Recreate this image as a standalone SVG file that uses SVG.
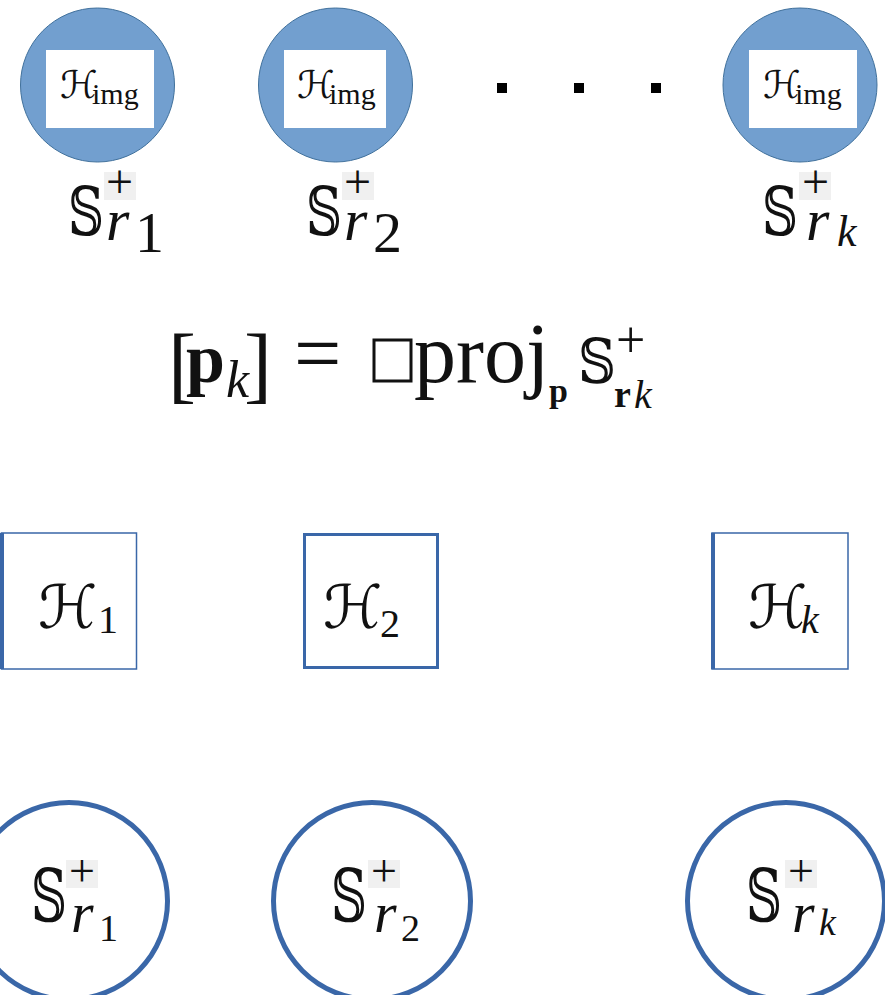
<svg xmlns="http://www.w3.org/2000/svg" width="885" height="995" viewBox="0 0 885 995">
<style>
.top{fill:#729FCF;stroke:#41719C;stroke-width:1}
.inner{fill:#ffffff}
.bot{fill:none;stroke:#3A67A8;stroke-width:5}
.box{fill:#ffffff;stroke:#3A67A8}
.lbl{font-family:"Liberation Serif",serif;fill:#111}
.ds{font-family:"DejaVu Serif","DejaVu Sans",serif}
.cal{font-family:"DejaVu Serif","DejaVu Sans",serif;font-style:italic}
.it{font-style:italic}
.bf{font-weight:bold}
.gb{fill:#f0f0f0}
</style>
<rect width="885" height="995" fill="#ffffff"/>

<g id="top1">
<circle class="top" cx="97.5" cy="85" r="77"/>
<rect class="inner" x="46" y="50" width="108" height="78"/>
<text class="lbl"><tspan class="cal" x="60" y="98" font-size="38">ℋ</tspan><tspan x="92" y="104" font-size="30">img</tspan></text>
</g>
<g id="top2">
<circle class="top" cx="335.5" cy="85" r="77"/>
<rect class="inner" x="284" y="50" width="102" height="78"/>
<text class="lbl"><tspan class="cal" x="297" y="98" font-size="38">ℋ</tspan><tspan x="329" y="104" font-size="30">img</tspan></text>
</g>
<g id="topk">
<circle class="top" cx="800" cy="85" r="77"/>
<rect class="inner" x="749" y="50" width="108" height="78"/>
<text class="lbl"><tspan class="cal" x="763" y="98" font-size="38">ℋ</tspan><tspan x="795" y="104" font-size="30">img</tspan></text>
</g>
<g id="dots" fill="#000">
<rect x="497" y="83" width="10" height="10"/>
<rect x="574" y="83" width="10" height="10"/>
<rect x="651" y="83" width="10" height="10"/>
</g>

<g id="label1">
<rect class="gb" x="104" y="172" width="32" height="28"/>
<text class="lbl"><tspan class="ds" x="68" y="235" font-size="68" textLength="36" lengthAdjust="spacingAndGlyphs">𝕊</tspan><tspan x="106" y="198" font-size="48">+</tspan><tspan class="it" x="106" y="240" font-size="60">r</tspan><tspan x="135" y="252" font-size="58">1</tspan></text>
</g>
<g id="label2">
<rect class="gb" x="342" y="172" width="32" height="28"/>
<text class="lbl"><tspan class="ds" x="306" y="235" font-size="68" textLength="36" lengthAdjust="spacingAndGlyphs">𝕊</tspan><tspan x="344" y="198" font-size="48">+</tspan><tspan class="it" x="344" y="240" font-size="60">r</tspan><tspan x="373" y="252" font-size="58">2</tspan></text>
</g>
<g id="labelk">
<rect class="gb" x="799" y="172" width="32" height="28"/>
<text class="lbl"><tspan class="ds" x="762" y="235" font-size="68" textLength="36" lengthAdjust="spacingAndGlyphs">𝕊</tspan><tspan x="802" y="198" font-size="48">+</tspan><tspan class="it" x="806" y="240" font-size="60">r</tspan><tspan class="it" x="837" y="246" font-size="44">k</tspan></text>
</g>

<g id="formula">
<rect x="374" y="340" width="37" height="41" fill="none" stroke="#111" stroke-width="3"/>
<text class="lbl"><tspan x="168" y="393" font-size="84">[</tspan><tspan class="bf" x="186" y="382" font-size="70">p</tspan><tspan class="it" x="226" y="397" font-size="52">k</tspan><tspan x="244" y="393" font-size="84">]</tspan><tspan x="294" y="382" font-size="84">=</tspan><tspan x="414" y="382" font-size="84">proj</tspan><tspan class="bf" x="549" y="402" font-size="34">p</tspan><tspan class="ds" x="578" y="383" font-size="62" textLength="38" lengthAdjust="spacingAndGlyphs">𝕊</tspan><tspan x="616" y="357" font-size="52">+</tspan><tspan class="bf" x="614" y="407" font-size="38">r</tspan><tspan class="it" x="634" y="408" font-size="40">k</tspan></text>
</g>

<g id="H1">
<rect class="box" x="1.5" y="533" width="135" height="136" stroke-width="1.5"/>
<line x1="2" y1="533" x2="2" y2="669" stroke="#3A67A8" stroke-width="4"/>
<text class="lbl"><tspan class="cal" x="38" y="628" font-size="60">ℋ</tspan><tspan x="98" y="633" font-size="40">1</tspan></text>
</g>
<g id="H2">
<rect class="box" x="304.5" y="534.5" width="133" height="133" stroke-width="3"/>
<text class="lbl"><tspan class="cal" x="323" y="628" font-size="60">ℋ</tspan><tspan x="380" y="637" font-size="40">2</tspan></text>
</g>
<g id="Hk">
<rect class="box" x="712" y="533" width="136" height="136" stroke-width="1.5"/>
<line x1="713" y1="533" x2="713" y2="669" stroke="#3A67A8" stroke-width="4"/>
<text class="lbl"><tspan class="cal" x="748" y="628" font-size="60">ℋ</tspan><tspan class="it" x="801" y="633" font-size="40">k</tspan></text>
</g>

<g id="S1">
<circle class="bot" cx="69" cy="901" r="98.5"/>
<rect class="gb" x="66" y="860" width="32" height="28"/>
<text class="lbl"><tspan class="ds" x="31" y="922" font-size="72" textLength="36" lengthAdjust="spacingAndGlyphs">𝕊</tspan><tspan x="69" y="886" font-size="46">+</tspan><tspan class="it" x="71" y="932" font-size="58">r</tspan><tspan x="99" y="941" font-size="38">1</tspan></text>
</g>
<g id="S2">
<circle class="bot" cx="372" cy="901" r="98.5"/>
<rect class="gb" x="368" y="860" width="32" height="28"/>
<text class="lbl"><tspan class="ds" x="331" y="922" font-size="72" textLength="36" lengthAdjust="spacingAndGlyphs">𝕊</tspan><tspan x="371" y="886" font-size="46">+</tspan><tspan class="it" x="374" y="932" font-size="58">r</tspan><tspan x="401" y="941" font-size="38">2</tspan></text>
</g>
<g id="Sk">
<circle class="bot" cx="786" cy="901" r="98.5"/>
<rect class="gb" x="785" y="860" width="32" height="28"/>
<text class="lbl"><tspan class="ds" x="746" y="922" font-size="72" textLength="36" lengthAdjust="spacingAndGlyphs">𝕊</tspan><tspan x="788" y="886" font-size="46">+</tspan><tspan class="it" x="792" y="932" font-size="58">r</tspan><tspan class="it" x="819" y="935" font-size="38">k</tspan></text>
</g>

<g id="connectors"></g>
</svg>
